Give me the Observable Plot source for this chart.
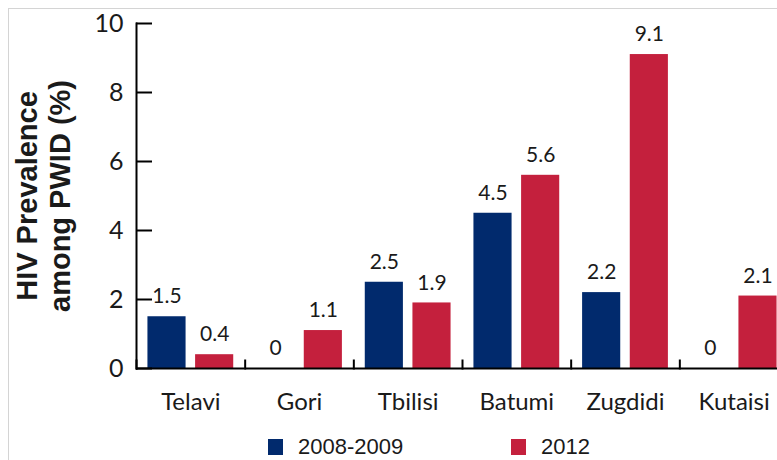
<!DOCTYPE html>
<html>
<head>
<meta charset="utf-8">
<script src="https://cdn.jsdelivr.net/npm/d3@7"></script>
<script src="https://cdn.jsdelivr.net/npm/@observablehq/plot@0.6"></script>
<style>
  html, body { margin: 0; padding: 0; background: #fff; width: 777px; height: 460px; overflow: hidden; }
  #frame { position: absolute; left: 8px; top: 8px; width: 820px; height: 520px;
           border-left: 1.5px solid #d4d4d4; border-top: 1.5px solid #d4d4d4; }
  #chart { position: absolute; left: 0; top: 0; }
  .legend-item { position: absolute; top: 434px; display: flex; align-items: center;
                 font-family: "Liberation Sans", Arial, sans-serif; font-size: 22px; color: #1a1a1a; }
  .legend-item span.sw { display: inline-block; width: 15px; height: 16px; margin-right: 15px; }
</style>
</head>
<body>
<div id="frame"></div>
<div id="chart"></div>
<script>
// HIV prevalence among people who inject drugs, by city and survey round
const cities = ["Telavi", "Gori", "Tbilisi", "Batumi", "Zugdidi", "Kutaisi"];
const periods = ["2008-2009", "2012"];
const prev2008 = [1.5, 0, 2.5, 4.5, 2.2, 0];
const prev2012 = [0.4, 1.1, 1.9, 5.6, 9.1, 2.1];
const yTicks = [0, 2, 4, 6, 8, 10];
const yTitle = "HIV Prevalence\namong PWID (%)";
const colors = ["#012a6d", "#c4203d"];

const rows = cities.flatMap((city, i) => [
  {city, period: periods[0], value: prev2008[i]},
  {city, period: periods[1], value: prev2012[i]}
]);

const W = 777, H = 420, mTop = 23, mBottom = 52;
const sepLength = 8; // height of the city separators on the baseline

const chart = Plot.plot({
  width: W,
  height: H,
  marginLeft: 136,
  marginRight: -11,
  marginTop: mTop,
  marginBottom: mBottom,
  style: {fontFamily: "Lato, 'Open Sans', sans-serif", color: "#1a1a1a", background: "transparent"},
  fx: {domain: cities, padding: 0, round: false, label: null},
  x: {domain: periods, paddingInner: 0.2, paddingOuter: 0.24, round: false, axis: null},
  y: {domain: [0, 10], label: null},
  color: {domain: periods, range: colors},
  marks: [
    Plot.barY(rows, {fx: "city", x: "period", y: "value", fill: "period"}),
    Plot.text(rows, {fx: "city", x: "period", y: "value", text: d => String(d.value),
                     dy: -20, fontSize: 21, fill: "#1a1a1a"}),
    Plot.ruleY([0], {stroke: "#000", strokeWidth: 2}),
    // y axis line (left facet only)
    Plot.frame({anchor: "left", facetAnchor: "left", stroke: "#000", strokeWidth: 2}),
    // short separators at the left edge of every city group
    Plot.frame({anchor: "left", insetTop: H - mTop - mBottom - sepLength, stroke: "#000", strokeWidth: 2}),
    Plot.axisY({ticks: yTicks, tickSize: -16, tickPadding: 29, fontSize: 25,
                stroke: "#000", strokeWidth: 2, label: null, tickFormat: d => String(d)}),
    Plot.axisFx({anchor: "bottom", tickSize: 0, tickPadding: 24, fontSize: 24, label: null}),
    Plot.text([yTitle], {frameAnchor: "left", facetAnchor: "left", textAnchor: "middle",
                         rotate: -90, dx: -94, lineHeight: 1.14, fontSize: 29, fontWeight: "bold",
                         fontFamily: "'Liberation Sans', Arial, sans-serif", fill: "#1a1a1a"})
  ]
});
document.getElementById("chart").appendChild(chart);

// legend below the plot
const legendLeft = [268, 511];
periods.forEach((p, i) => {
  const item = document.createElement("div");
  item.className = "legend-item";
  item.style.left = legendLeft[i] + "px";
  const sw = document.createElement("span");
  sw.className = "sw";
  sw.style.background = colors[i];
  item.appendChild(sw);
  item.appendChild(document.createTextNode(p));
  document.body.appendChild(item);
});
</script>
</body>
</html>
